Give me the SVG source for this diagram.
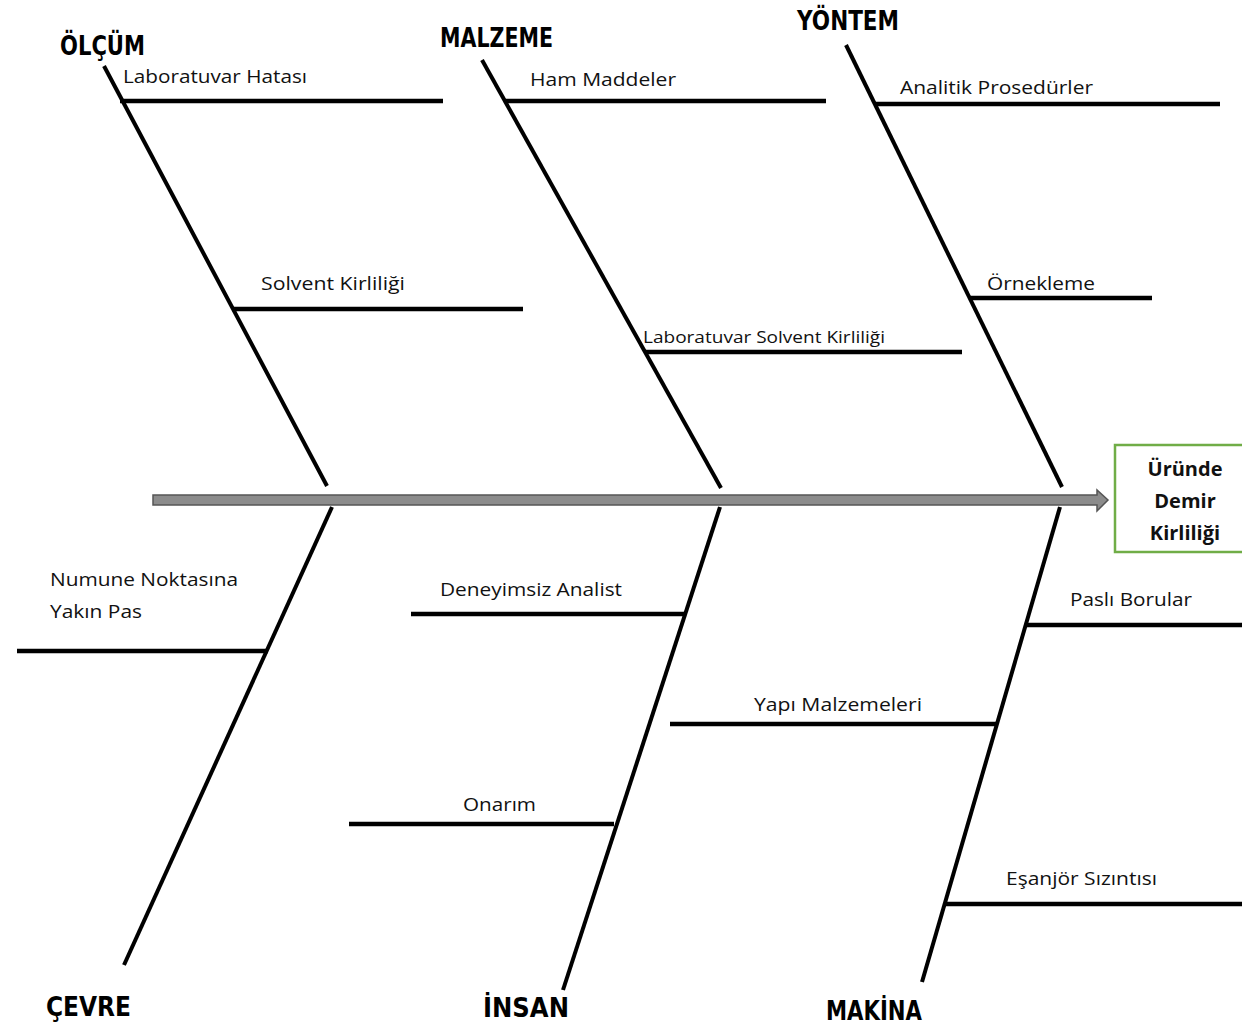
<svg xmlns="http://www.w3.org/2000/svg" width="1242" height="1024" viewBox="0 0 1242 1024">
<style>
.bone{stroke:#000;stroke-width:4;fill:none;stroke-linecap:butt}
.br{stroke:#000;stroke-width:4.5;fill:none}
.hd{font-family:"DejaVu Sans",sans-serif;font-weight:bold;font-size:27px;fill:#000}
.lb{font-family:"Open Sans","Noto Sans",sans-serif;font-size:19px;fill:#111}
.bx{font-family:"Open Sans","Noto Sans",sans-serif;font-weight:bold;font-size:20px;fill:#111;text-anchor:middle}
</style>
<rect width="1242" height="1024" fill="#fff"/>
<g id="connectors">
<line class="bone" x1="104" y1="66" x2="327" y2="486"/>
<line class="bone" x1="482" y1="60" x2="721" y2="488"/>
<line class="bone" x1="846" y1="45" x2="1062" y2="487"/>
<line class="bone" x1="332" y1="507" x2="124" y2="965"/>
<line class="bone" x1="720" y1="507" x2="563" y2="990"/>
<line class="bone" x1="1060" y1="507" x2="922" y2="982"/>
<line class="br" x1="120" y1="101" x2="443" y2="101"/>
<line class="br" x1="232" y1="309" x2="523" y2="309"/>
<line class="br" x1="505" y1="101" x2="826" y2="101"/>
<line class="br" x1="645" y1="352" x2="962" y2="352"/>
<line class="br" x1="875" y1="104" x2="1220" y2="104"/>
<line class="br" x1="970" y1="298" x2="1152" y2="298"/>
<line class="br" x1="17" y1="651" x2="268" y2="651"/>
<line class="br" x1="411" y1="614" x2="684" y2="614"/>
<line class="br" x1="349" y1="824" x2="614" y2="824"/>
<line class="br" x1="1027" y1="625" x2="1242" y2="625"/>
<line class="br" x1="670" y1="724" x2="996" y2="724"/>
<line class="br" x1="945" y1="904" x2="1242" y2="904"/>
<polygon points="153,495 1097,495 1097,490 1108,500 1097,511 1097,505 153,505" fill="#8c8c8c" stroke="#555" stroke-width="1.5"/>
</g>
<g id="n-olcum"><text class="hd" x="60" y="55" textLength="85" lengthAdjust="spacingAndGlyphs">ÖLÇÜM</text></g>
<g id="n-malzeme"><text class="hd" x="440" y="47" textLength="113" lengthAdjust="spacingAndGlyphs">MALZEME</text></g>
<g id="n-yontem"><text class="hd" x="797" y="30" textLength="102" lengthAdjust="spacingAndGlyphs">YÖNTEM</text></g>
<g id="n-cevre"><text class="hd" x="46" y="1016" textLength="85" lengthAdjust="spacingAndGlyphs">ÇEVRE</text></g>
<g id="n-insan"><text class="hd" x="483" y="1017" textLength="86" lengthAdjust="spacingAndGlyphs">İNSAN</text></g>
<g id="n-makina"><text class="hd" x="826" y="1020" textLength="96" lengthAdjust="spacingAndGlyphs">MAKİNA</text></g>
<g id="l1"><text class="lb" x="123" y="83" textLength="184" lengthAdjust="spacingAndGlyphs">Laboratuvar Hatası</text></g>
<g id="l2"><text class="lb" x="530" y="86" textLength="146" lengthAdjust="spacingAndGlyphs">Ham Maddeler</text></g>
<g id="l3"><text class="lb" x="900" y="94" textLength="193" lengthAdjust="spacingAndGlyphs">Analitik Prosedürler</text></g>
<g id="l4"><text class="lb" x="261" y="290" textLength="144" lengthAdjust="spacingAndGlyphs">Solvent Kirliliği</text></g>
<g id="l5"><text class="lb" x="987" y="290" textLength="108" lengthAdjust="spacingAndGlyphs">Örnekleme</text></g>
<g id="l6"><text class="lb" x="643" y="343" style="font-size:16px" textLength="242" lengthAdjust="spacingAndGlyphs">Laboratuvar Solvent Kirliliği</text></g>
<g id="l7"><text class="lb" x="50" y="586" textLength="188" lengthAdjust="spacingAndGlyphs">Numune Noktasına</text><text class="lb" x="50" y="618" textLength="92" lengthAdjust="spacingAndGlyphs">Yakın Pas</text></g>
<g id="l8"><text class="lb" x="440" y="596" textLength="182" lengthAdjust="spacingAndGlyphs">Deneyimsiz Analist</text></g>
<g id="l9"><text class="lb" x="1070" y="606" textLength="122" lengthAdjust="spacingAndGlyphs">Paslı Borular</text></g>
<g id="l10"><text class="lb" x="754" y="711" textLength="168" lengthAdjust="spacingAndGlyphs">Yapı Malzemeleri</text></g>
<g id="l11"><text class="lb" x="463" y="811" textLength="73" lengthAdjust="spacingAndGlyphs">Onarım</text></g>
<g id="l12"><text class="lb" x="1006" y="885" textLength="151" lengthAdjust="spacingAndGlyphs">Eşanjör Sızıntısı</text></g>
<g id="effect">
<rect x="1115" y="445" width="130" height="107" fill="#fff" stroke="#70ad47" stroke-width="2.5"/>
<text class="bx" x="1185" y="476">Üründe</text>
<text class="bx" x="1185" y="508">Demir</text>
<text class="bx" x="1185" y="540">Kirliliği</text>
</g>
</svg>
